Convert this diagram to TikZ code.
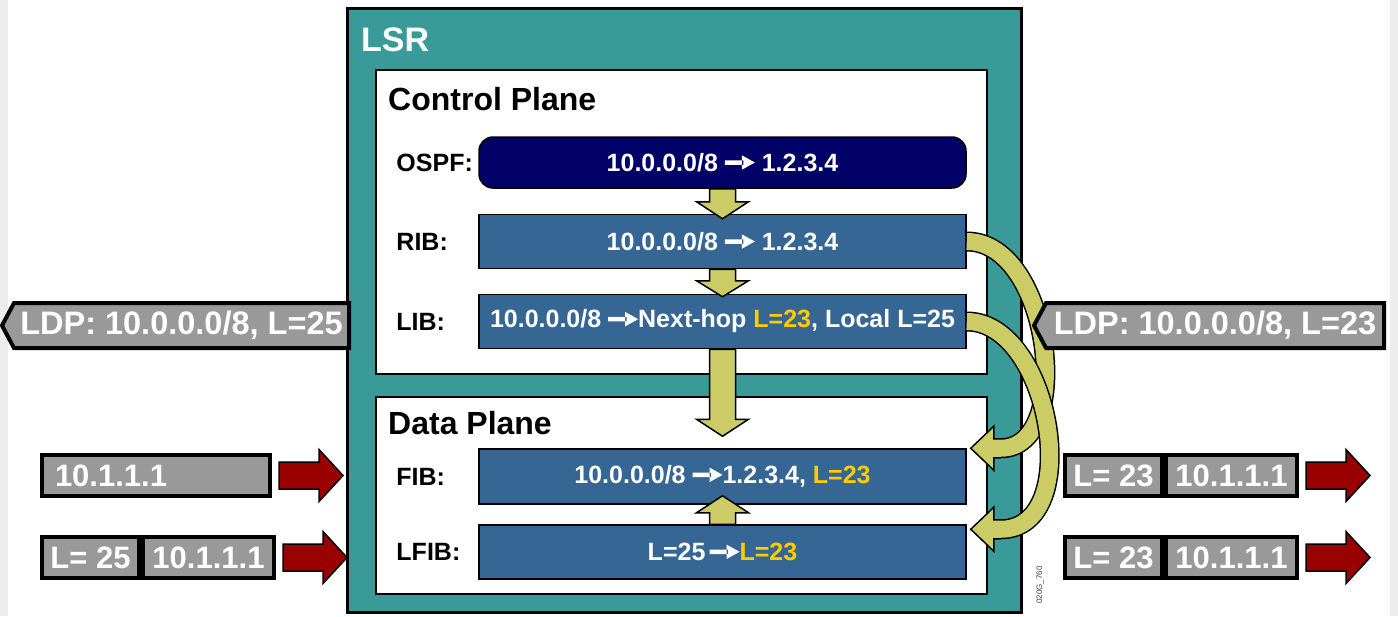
\documentclass[tikz,border=0pt]{standalone}
\usepackage{fontspec}
\setmainfont{Liberation Sans}
\usepackage{tikz}
\usetikzlibrary{positioning,calc,shapes.symbols}
\usepackage{xcolor}
\definecolor{lsrteal}{RGB}{58,154,152}
\definecolor{ospfnavy}{RGB}{0,0,102}
\definecolor{tableblue}{RGB}{53,102,148}
\definecolor{flowyellow}{RGB}{204,204,102}
\definecolor{labelgold}{RGB}{255,204,0}
\definecolor{taggray}{RGB}{153,153,153}
\definecolor{pktred}{RGB}{153,0,0}
\definecolor{edgegray}{RGB}{236,236,236}

\newcommand{\fsize}[1]{\fontsize{#1}{#1}\selectfont}
% white arrow used inside the tables
\newcommand{\rarrow}{\tikz[baseline=0pt, x=1pt, y=1pt, sharp corners]
  \fill[white] (0,6.5) rectangle (18.5,11) (17,1.6) -- (30,8.8) -- (17,16) -- cycle;}

% fat arrow between two tables: #1 tail, #2 tip, #3 head length (signed)
\newcommand{\blockarrow}[3]{%
  \filldraw[flow] let \p1=(#1), \p2=(#2) in
    ({\x1-13pt},\y1) -- ({\x1-13pt},{\y2+(#3)}) -- ({\x1-26pt},{\y2+(#3)}) -- (\x1,\y2)
    -- ({\x1+26pt},{\y2+(#3)}) -- ({\x1+13pt},{\y2+(#3)}) -- ({\x1+13pt},\y1) -- cycle;}
% head of a curved band, #1 = tip
\newcommand{\bandhead}[1]{%
  \filldraw[flow] ($(#1)+(30,-9.5)$) -- ++(-7,0) -- ++(0,-12.5) -- ++(-23,22)
    -- ++(23,22) -- ++(0,-12.5) -- ++(7,0);}
% red packet arrow, #1 = east side of the packet
\newcommand{\fwdarrow}[1]{%
  \filldraw[pktarrow] ($(#1)+(7,-13.5)$) -- ++(40,0) -- ++(0,-12.5) -- ++(24,26)
    -- ++(-24,26) -- ++(0,-12.5) -- ++(-40,0) -- cycle;}

\begin{document}
\begin{tikzpicture}[x=1pt, y=-1pt,
    tblbox/.style={draw=black, line width=1.5pt, fill=tableblue, minimum width=487pt,
      minimum height=54pt, inner sep=0pt, text=white, font=\bfseries\fsize{25}},
    rowlbl/.style={anchor=west, inner sep=0pt, font=\bfseries\fsize{25}},
    planebox/.style={draw=black, line width=2pt, fill=white, minimum width=611pt, inner sep=0pt},
    planetitle/.style={anchor=west, inner sep=0pt, font=\bfseries\fsize{32}},
    flow/.style={draw=black, line width=1.5pt, fill=flowyellow, line join=miter},
    band/.style={draw=black, line width=1.5pt, double=flowyellow, double distance=17pt},
    ldptag/.style={signal, draw=black, line width=4pt, fill=taggray, text=white,
      font=\bfseries\fsize{32.5}, minimum height=45pt, signal pointer angle=124, inner sep=0pt},
    pktcell/.style={draw=black, line width=4pt, fill=taggray, text=white,
      font=\bfseries\fsize{31}, minimum height=41pt, inner sep=0pt},
    pktarrow/.style={draw=black, line width=1.5pt, fill=pktred}]

  \useasboundingbox (0,0) rectangle (1398,616);
  \fill[white] (0,0) rectangle (1398,616);
  \fill[edgegray] (0,0) rectangle (8,616);
  \fill[edgegray] (1390,0) rectangle (1398,616);

  % LSR
  \node[draw=black, line width=3pt, fill=lsrteal, minimum width=674pt, minimum height=604pt,
    inner sep=0pt] (lsr) at (684,310) {};
  \node[planetitle, text=white, font=\bfseries\fsize{34}] (lsrtitle) at (361,40) {LSR};

  % Control plane
  \node[planebox, minimum height=304pt] (ctrl) at (681.5,222) {};
  \node[planetitle] (ctrltitle) at (388,99) {Control Plane};

  % Data plane
  \node[planebox, minimum height=197pt] (data) at (681.5,495.5) {};
  \node[planetitle] (datatitle) at (388,423) {Data Plane};

  % Tables
  \node[tblbox, fill=ospfnavy, rounded corners=14pt, minimum height=51pt] (ospf) at (722.5,162.5)
    {10.0.0.0/8 \rarrow{} 1.2.3.4};
  \node[tblbox] (rib) at (722.5,241.5) {10.0.0.0/8 \rarrow{} 1.2.3.4};
  \node[tblbox] (lib) at (722.5,321.5)
    {10.0.0.0/8 \rarrow{}Next-hop \textcolor{labelgold}{L=23}, Local L=25};
  \node[tblbox, minimum height=55pt] (fib) at (722.5,476.5)
    {10.0.0.0/8 \rarrow{}1.2.3.4, \textcolor{labelgold}{L=23}};
  \node[tblbox] (lfib) at (722.5,552) {L=25\,\rarrow{}\textcolor{labelgold}{L=23}};

  \node[rowlbl] (ospflbl) at ($(ospf.west)+(-82,0)$) {OSPF:};
  \node[rowlbl] (riblbl) at ($(rib.west)+(-82,0)$) {RIB:};
  \node[rowlbl] (liblbl) at ($(lib.west)+(-82,0)$) {LIB:};
  \node[rowlbl] (fiblbl) at ($(fib.west)+(-82,0)$) {FIB:};
  \node[rowlbl] (lfiblbl) at ($(lfib.west)+(-82,0)$) {LFIB:};

  % Fat arrows
  \blockarrow{ospf.south}{$(rib.north)+(0,5)$}{17pt}
  \blockarrow{rib.south}{$(lib.north)+(0,3)$}{16pt}
  \blockarrow{lib.south}{$(fib.north)+(0,-12)$}{17pt}
  \blockarrow{lfib.north}{$(fib.south)+(0,-9)$}{-17pt}

  % Curved bands
  \coordinate (fibtip) at ($(fib.north east)+(4,0)$);
  \coordinate (lfibtip) at ($(lfib.north east)+(4,5)$);
  \draw[band] (rib.east) .. controls +(84,0) and +(75,0) .. ($(fibtip)+(30,0)$);
  \bandhead{fibtip}
  \draw[band] (lib.east) .. controls +(84,0) and +(85,0) .. ($(lfibtip)+(30,0)$);
  \bandhead{lfibtip}

  % LDP messages
  \node[ldptag, signal to=west, minimum width=347pt] (ldpout) at (181.5,325.5)
    {LDP: 10.0.0.0/8, L=25};
  \node[ldptag, signal to=west, minimum width=350pt] (ldpin) at (1215,325.5)
    {LDP: 10.0.0.0/8, L=23};

  % Incoming packets
  \node[pktcell, minimum width=228pt, text width=210pt, align=left] (pktin1) at (156,475.5)
    {\hspace*{4pt}10.1.1.1};
  \node[pktcell, minimum width=97pt] (lblin2) at (90.5,557.5) {L= 25};
  \node[pktcell, minimum width=131pt, right=0pt of lblin2] (pktin2) {10.1.1.1};
  \fwdarrow{pktin1.east}
  \fwdarrow{pktin2.east}

  % Outgoing packets
  \node[pktcell, minimum width=97pt] (lblout1) at (1113.5,475.5) {L= 23};
  \node[pktcell, minimum width=131pt, right=0pt of lblout1] (pktout1) {10.1.1.1};
  \node[pktcell, minimum width=97pt] (lblout2) at (1113.5,557.5) {L= 23};
  \node[pktcell, minimum width=131pt, right=0pt of lblout2] (pktout2) {10.1.1.1};
  \fwdarrow{pktout1.east}
  \fwdarrow{pktout2.east}

  \node[rotate=90, inner sep=0pt, font=\fsize{8}, text=black!75] (figid) at (1040,585) {020G\_760};
\end{tikzpicture}
\end{document}
